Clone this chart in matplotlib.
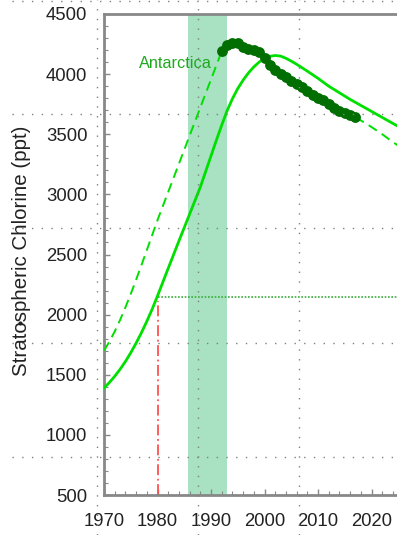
import matplotlib
matplotlib.use('Agg')
import matplotlib.pyplot as plt
from matplotlib.lines import Line2D
from matplotlib.ticker import MultipleLocator

plt.rcParams['font.family'] = ['Liberation Sans', 'DejaVu Sans']

# modelled stratospheric chlorine (solid)
model_years = [1970, 1971, 1972, 1973, 1974, 1975, 1976, 1977, 1978, 1979,
               1980, 1981, 1982, 1984, 1986, 1988, 1989, 1990, 1991, 1992,
               1993, 1994, 1995, 1996, 1997, 1998, 1999, 2000, 2001, 2002,
               2003, 2004, 2005, 2006, 2008, 2010, 2012, 2014, 2016, 2018,
               2020, 2022, 2024, 2026, 2028, 2030]
model_cl = [1390, 1435, 1487, 1545, 1610, 1683, 1763, 1850, 1944, 2045,
            2155, 2270, 2385, 2612, 2835, 3060, 3190, 3320, 3450, 3575,
            3695, 3795, 3880, 3950, 4010, 4060, 4100, 4130, 4148, 4155,
            4150, 4132, 4108, 4082, 4025, 3965, 3900, 3845, 3790, 3740,
            3690, 3640, 3590, 3540, 3490, 3440]

# Antarctic chlorine (dashed), before and after the observed record
ant_early_years = list(range(1970, 1993))
ant_early_cl = [1700, 1775, 1860, 1955, 2060, 2172, 2290, 2412, 2536, 2661,
                2786, 2903, 3020, 3137, 3254, 3371, 3488, 3605, 3722, 3839,
                3956, 4073, 4190]
ant_late_years = [2017, 2020, 2022, 2024, 2026, 2028, 2030]
ant_late_cl = [3643, 3560, 3500, 3435, 3375, 3315, 3255]

# observed Antarctic chlorine (dots)
obs_years = list(range(1992, 2018))
obs_cl = [4191, 4240, 4257, 4255, 4225, 4208, 4198, 4185, 4135, 4075,
          4035, 4005, 3975, 3945, 3918, 3890, 3860, 3828, 3800, 3781,
          3752, 3715, 3690, 3675, 3660, 3643]

band = (1985.7, 1992.9)
ref_year = 1980
ref_cl = 2150
ref_top = 2110

fig = plt.figure(figsize=(3.97, 5.35), dpi=100)
ax = fig.add_axes([104 / 397, 40 / 535, 321 / 397, 481 / 535])

ax.axvspan(band[0], band[1], color='#a8e2c2', lw=0, zorder=1)
ax.plot([ref_year, ref_year], [500, ref_top], color='#ff5050', lw=1.3,
        linestyle=(0, (6, 2, 1, 2)), zorder=2)
ax.plot([ref_year, 2030], [ref_cl, ref_cl], color='#3caa3c', lw=1.2,
        linestyle=(0, (1, 1)), zorder=2)
ax.plot(model_years, model_cl, color='#00e000', lw=2, zorder=3)
ax.plot(ant_early_years, ant_early_cl, color='#00e000', lw=1.4,
        linestyle=(0, (5, 3)), zorder=3)
ax.plot(ant_late_years, ant_late_cl, color='#00e000', lw=1.4,
        linestyle=(0, (5, 3)), zorder=3)
ax.plot(obs_years, obs_cl, 'o', color='#006e00', ms=7.8, mec='none', zorder=4)

ax.text(1976.6, 4090, 'Antarctica', color='#1eaa1e', fontsize=11.7, va='center')

ax.set_xlim(1970, 2030)
ax.set_ylim(500, 4500)
ax.set_xticks([1970, 1980, 1990, 2000, 2010, 2020])
ax.xaxis.set_minor_locator(MultipleLocator(2))
ax.yaxis.set_major_locator(MultipleLocator(500))
ax.yaxis.set_minor_locator(MultipleLocator(100))
ax.tick_params(which='both', direction='in', colors='#888888', labelcolor='#222222',
               labelsize=13.3, top=False, right=False)
ax.tick_params(which='major', length=4, width=1)
ax.tick_params(which='minor', length=3, width=0.8)
ax.tick_params(axis='y', pad=12)
ax.tick_params(axis='x', pad=13)
for s in ax.spines.values():
    s.set_color('#888888')
    s.set_linewidth(2)

fig.text(22 / 397, 1 - 251 / 535, 'Stratospheric Chlorine (ppt)', rotation=90,
         ha='center', va='center', fontsize=14.8, color='#222222')
fig.add_artist(Line2D([20 / 397], [1 - 323 / 535], marker='o', ms=2,
                      color='#222222', lw=0))

# dotted guide grid across the page
W, H = 397, 535
for gx in [97, 198, 299]:
    fig.add_artist(Line2D([gx / W, gx / W], [0, 1], color='#808080', lw=1,
                          linestyle=(0, (1, 6)), zorder=5))
for gy in [1, 114, 228, 343, 457]:
    fig.add_artist(Line2D([0.03, 1], [1 - gy / H, 1 - gy / H], color='#808080', lw=1,
                          linestyle=(0, (1, 6)), zorder=5))

fig.savefig('out.png', dpi=100)
